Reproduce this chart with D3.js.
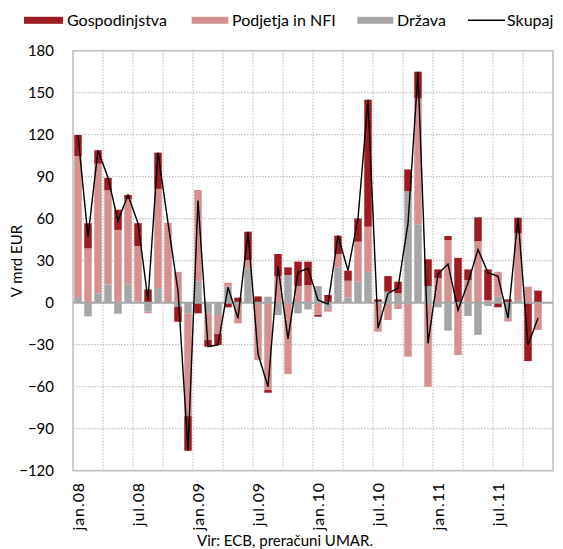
<!DOCTYPE html>
<html>
<head>
<meta charset="utf-8">
<script src="https://cdn.jsdelivr.net/npm/d3@7"></script>
<style>
  html, body { margin: 0; padding: 0; background: #fff; }
  svg { display: block; font-family: "Lato", "Liberation Sans", sans-serif; }
</style>
</head>
<body>
<svg id="chart" width="563" height="549"></svg>
<script>
// ---- Data (V mrd EUR), monthly jan.08 .. dec.11 ----
const months = [
  "jan.08","feb.08","mar.08","apr.08","maj.08","jun.08","jul.08","avg.08","sep.08","okt.08","nov.08","dec.08",
  "jan.09","feb.09","mar.09","apr.09","maj.09","jun.09","jul.09","avg.09","sep.09","okt.09","nov.09","dec.09",
  "jan.10","feb.10","mar.10","apr.10","maj.10","jun.10","jul.10","avg.10","sep.10","okt.10","nov.10","dec.10",
  "jan.11","feb.11","mar.11","apr.11","maj.11","jun.11","jul.11","avg.11","sep.11","okt.11","nov.11","dec.11"
];
const tickLabels = ["jan.08","jul.08","jan.09","jul.09","jan.10","jul.10","jan.11","jul.11"];
const yTicks = [-120,-90,-60,-30,0,30,60,90,120,150,180];

const gospodinjstva = [15,18,9.6,8.9,14.4,3,16.3,9.5,25.9,0,-10.6,-24.7,
  -7.6,-4.7,-7.8,-3.3,3.6,20.2,4.5,-1.9,15.8,5.4,17.3,16.7,
  -1.2,5.5,13.1,7.2,16.6,90.7,2.4,11.1,8.3,15.4,19,19.1,
  6.4,2.8,32,7.6,17,21.9,-3.3,2.4,11.2,-41.7,8.6];
const podjetja = [101.4,38.8,92.8,67.3,52,61,39.5,-1.2,70.8,57,22,-73.4,
  65.5,-19.1,-13.6,2.9,-14.8,6,-41,-62.4,19,-51,12,12.6,
  -8.8,-2.4,9.6,11.9,28.6,32.3,-20.7,-12.4,-4.5,-38.6,90,-60,
  17.4,44.8,-37.4,16.2,44,1.9,17.8,-2.4,48.1,11.4,-19.5];
const drzava = [3.4,-9.8,6.5,13,-7.9,13,1,-6.4,10.5,0,-3,-7.6,
  15,-7.6,-8.8,11.4,0,24.5,0,4.3,-8.8,19.8,-7.6,-4.8,
  11.9,-4,25.2,3.8,15,22,0,7.9,6.7,79.8,56,11.9,
  -3.3,-20,0,-9.5,-23,-2.4,4.3,-11,1.4,0,0];
const skupaj = [119.5,47,108.9,89.2,58.5,77,56.8,1.9,107.2,57,8.4,-105.7,
  72.9,-31.4,-30.2,11,-11.2,50.7,-36.5,-60,26,-25.8,21.7,24.5,
  1.9,-0.9,47.9,22.9,60.2,145,-18.3,6.6,10.5,56.6,165,-29,
  20.5,27.6,-5.4,14.3,38,21.4,18.8,-11,60.7,-30.3,-10.9];

const seriesNames = ["Država","Podjetja in NFI","Gospodinjstva"];
const seriesColors = {"Gospodinjstva":"#9d1c24","Podjetja in NFI":"#d39291","Država":"#a6a6a6"};

// ---- Layout ----
const svg = d3.select("#chart");
const plot = {left:73, right:553, top:50.7, bottom:470.7};

const x = d3.scaleBand().domain(months).range([plot.left, plot.right])
  .paddingInner(0.25).paddingOuter(0.125);
const y = d3.scaleLinear().domain([-120,180]).range([plot.bottom, plot.top]);

// table for stacking
const rows = gospodinjstva.map((g,i)=>({
  month: months[i],
  "Gospodinjstva": g,
  "Podjetja in NFI": podjetja[i],
  "Država": drzava[i]
}));
const stack = d3.stack().keys(seriesNames).offset(d3.stackOffsetDiverging);
const layers = stack(rows);

// gridlines
const grid = svg.append("g");
yTicks.filter(t => t!==-120 && t!==180 && t!==0).forEach(t=>{
  grid.append("line").attr("x1",plot.left).attr("x2",plot.right)
    .attr("y1",y(t)).attr("y2",y(t))
    .attr("stroke","#b5b5b5").attr("stroke-width",1).attr("stroke-dasharray","1.5,1.5");
});
const step = x.step();
for (let k=3; k<months.length; k+=3) {
  const gx = x(months[k]) - x.paddingInner()*step/2;
  grid.append("line").attr("x1",gx).attr("x2",gx)
    .attr("y1",plot.top).attr("y2",plot.bottom)
    .attr("stroke","#b5b5b5").attr("stroke-width",1).attr("stroke-dasharray","1.5,1.5");
}

// bars
svg.append("g").selectAll("g").data(layers).join("g")
  .attr("fill", d => seriesColors[d.key])
  .selectAll("rect").data(d=>d).join("rect")
  .attr("x", d => x(d.data.month))
  .attr("width", x.bandwidth())
  .attr("y", d => y(Math.max(d[0],d[1])))
  .attr("height", d => Math.abs(y(d[0]) - y(d[1])));

// plot border
svg.append("rect").attr("x",plot.left).attr("y",plot.top)
  .attr("width",plot.right-plot.left).attr("height",plot.bottom-plot.top)
  .attr("fill","none").attr("stroke","#bdbdbd").attr("stroke-width",1.5);

// zero line
svg.append("line").attr("x1",plot.left).attr("x2",plot.right)
  .attr("y1",y(0)).attr("y2",y(0)).attr("stroke","#a8a8a8").attr("stroke-width",2);

// total line
const line = d3.line().x((d,i)=>x(months[i]) + x.bandwidth()/2).y(d=>y(d));
svg.append("path").datum(skupaj).attr("d",line)
  .attr("fill","none").attr("stroke","#000").attr("stroke-width",1.4);

// y axis labels
const yAxis = d3.axisLeft(y).tickValues(yTicks).tickSize(0).tickPadding(0);
const yg = svg.append("g").attr("transform","translate(54,0)").call(yAxis);
yg.select(".domain").remove();
yg.selectAll("text").attr("font-size",15).attr("fill","#000")
  .attr("font-family","Lato, 'Liberation Sans', sans-serif");

// x axis labels
const xAxis = d3.axisBottom(x).tickValues(tickLabels).tickSize(0).tickPadding(0);
const xg = svg.append("g").attr("transform","translate(0,482)").call(xAxis);
xg.select(".domain").remove();
xg.selectAll("text")
  .attr("transform","rotate(-90)")
  .attr("text-anchor","end")
  .attr("x",0).attr("y",0).attr("dy","0.38em")
  .attr("font-size",16).attr("letter-spacing","0.9px").attr("fill","#000")
  .attr("font-family","Lato, 'Liberation Sans', sans-serif");

// y title
svg.append("text").attr("transform","translate(17,261) rotate(-90)")
  .attr("text-anchor","middle").attr("dy","0.35em")
  .attr("font-size",15).text("V mrd EUR");

// source
svg.append("text").attr("x",285).attr("y",546).attr("text-anchor","middle")
  .attr("font-size",15).text("Vir: ECB, preračuni UMAR.");

// legend
const legendItems = [
  {name:"Gospodinjstva", x0:24, x1:63, tx:67, type:"rect"},
  {name:"Podjetja in NFI", x0:191.7, x1:228.3, tx:232, type:"rect"},
  {name:"Država", x0:357.3, x1:393.3, tx:397, type:"rect"},
  {name:"Skupaj", x0:468, x1:505, tx:507, type:"line"}
];
const lg = svg.append("g");
legendItems.forEach(it=>{
  if (it.type==="rect") {
    lg.append("rect").attr("x",it.x0).attr("y",16.8).attr("width",it.x1-it.x0).attr("height",7)
      .attr("fill",seriesColors[it.name]);
  } else {
    lg.append("line").attr("x1",it.x0).attr("x2",it.x1).attr("y1",20.3).attr("y2",20.3)
      .attr("stroke","#000").attr("stroke-width",1.4);
  }
  lg.append("text").attr("x",it.tx).attr("y",25.5).attr("font-size",16).text(it.name);
});
</script>
</body>
</html>
